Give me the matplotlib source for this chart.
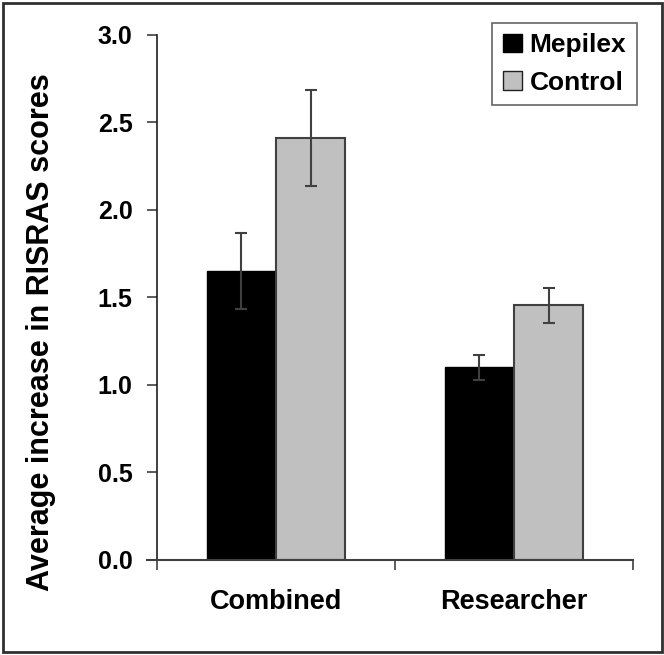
import matplotlib
matplotlib.use("Agg")
import matplotlib.pyplot as plt
import numpy as np
from matplotlib.patches import Rectangle

categories = ["Combined", "Researcher"]
series_names = ["Mepilex", "Control"]
mepilex = [1.65, 1.10]
mepilex_err = [0.22, 0.072]
control = [2.41, 1.455]
control_err = [0.275, 0.10]
yticks = [0.0, 0.5, 1.0, 1.5, 2.0, 2.5, 3.0]
ylabel = "Average increase in RISRAS scores"

plt.rcParams['font.family'] = ['Liberation Sans', 'DejaVu Sans']
plt.rcParams['font.weight'] = 'bold'

fig = plt.figure(figsize=(6.64, 6.55), dpi=100)
ax = fig.add_axes([157/664, 1-559.5/655, (633-157)/664, (559.5-35)/655])

x = np.arange(len(categories)) + 0.5
w = 0.29
ekw = dict(ecolor='#404040', elinewidth=1.5, capsize=4.5, capthick=1.5)
ax.bar(x - w/2, mepilex, w, yerr=mepilex_err, color='black', edgecolor='black',
       linewidth=1.0, label=series_names[0], error_kw=ekw, zorder=2)
ax.bar(x + w/2, control, w, yerr=control_err, color='#C0C0C0', edgecolor='#404040',
       linewidth=1.5, label=series_names[1], error_kw=ekw, zorder=2)

ax.set_xlim(0, len(categories))
ax.set_ylim(0, 3.0)
ax.set_yticks(yticks)
ax.set_yticklabels([f"{v:.1f}" for v in yticks], fontsize=18, fontweight='bold')
ax.set_xticks([0, 1, 2])
ax.set_xticklabels([])
ax.set_xticks(x, minor=True)
ax.set_xticklabels(categories, minor=True, fontsize=19.5, fontweight='bold')
ax.tick_params(axis='x', which='minor', length=0, pad=21)
ax.tick_params(axis='x', which='major', length=7.5, width=1.2, color='#404040', direction='out')
ax.tick_params(axis='y', length=7.5, width=1.2, color='#404040', direction='out', pad=10)

for s in ['top', 'right']:
    ax.spines[s].set_visible(False)
ax.spines['left'].set_color('#202020')
ax.spines['left'].set_linewidth(1.2)
ax.spines['bottom'].set_color('#404040')
ax.spines['bottom'].set_linewidth(1.5)
ax.spines['left'].set_bounds(0, 3.0)
ax.spines['bottom'].set_bounds(-10/238, 2)

ax.set_ylabel(ylabel, fontsize=22, fontweight='bold')
ax.yaxis.set_label_coords(-0.212, 0.434)

leg = ax.legend(loc='upper right', bbox_to_anchor=(1.008, 1.023), borderaxespad=0,
                fancybox=False, frameon=True, prop={'size': 19, 'weight': 'bold'},
                handlelength=0.72, handleheight=0.7, handletextpad=0.3,
                borderpad=0.4, labelspacing=0.5)
leg.get_frame().set_edgecolor('#404040')
leg.get_frame().set_linewidth(1.2)
leg.legend_handles[0].set_edgecolor('black')
leg.legend_handles[1].set_edgecolor('#202020')
leg.legend_handles[1].set_linewidth(1.0)

fig.patches.append(Rectangle((3/664, 3/655), 659/664, 649/655, transform=fig.transFigure,
                             fill=False, edgecolor='#303030', linewidth=2, zorder=10))

fig.savefig("out.png", dpi=100)
